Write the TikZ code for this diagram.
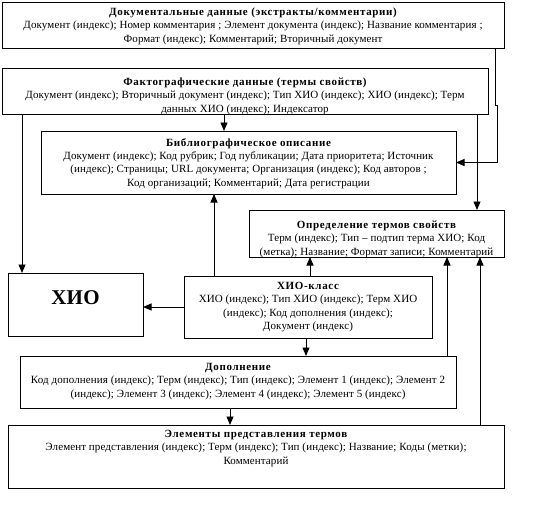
\documentclass[tikz,border=0pt]{standalone}
\usepackage{fontspec}
\setmainfont{Liberation Serif}[LetterSpace=1]
\newfontfamily\ttlfont{Liberation Serif}[LetterSpace=6]
\newcommand\boxtitle[1]{{\ttlfont\bfseries #1}}
\usetikzlibrary{arrows.meta}
\begin{document}
\begin{tikzpicture}[x=1pt,y=-1pt,
  box/.style={draw, line width=1pt, inner sep=0pt, outer sep=0pt},
  txt/.style={align=center, inner sep=0pt, outer sep=0pt, font=\fontsize{11}{13.4}\selectfont},
  big/.style={inner sep=0pt, font=\fontsize{21}{24}\selectfont\bfseries},
  arr/.style={line width=0.9pt, -{Triangle[length=8.5pt,width=7pt]}}]
\useasboundingbox (0,0) rectangle (544,512);

% boxes
\node[box, minimum width=502pt, minimum height=46pt] (b1) at (253,25) {};
\node[box, minimum width=486pt, minimum height=46pt] (b2) at (245,91) {};
\node[box, minimum width=415pt, minimum height=63pt] (b3) at (248.5,162.5) {};
\node[box, minimum width=255pt, minimum height=47pt] (b4) at (376.5,233.5) {};
\node[box, minimum width=135pt, minimum height=63pt] (hio) at (75.5,304.5) {};
\node[box, minimum width=248pt, minimum height=62pt] (cls) at (308,307) {};
\node[box, minimum width=436pt, minimum height=52pt] (dop) at (238,382) {};
\node[box, minimum width=496pt, minimum height=63pt] (el) at (256,456.5) {};

% texts
\node[txt] (t1) at (253,26) {\boxtitle{Документальные данные (экстракты/комментарии)}\\
Документ (индекс); Номер комментария ; Элемент документа (индекс); Название комментария ;\\
Формат (индекс); Комментарий; Вторичный документ};

\begin{scope}
\clip (b2.south west) rectangle (b2.north east);
\node[txt] (t2) at (245,96) {\boxtitle{Фактографические данные (термы свойств)}\\
Документ (индекс); Вторичный документ (индекс); Тип ХИО (индекс); ХИО (индекс); Терм\\
данных ХИО (индекс); Индексатор};
\end{scope}

\node[txt] (t3) at (248.5,163.5) {\boxtitle{Библиографическое описание}\\
Документ (индекс); Код рубрик; Год публикации; Дата приоритета; Источник\\
(индекс); Страницы; URL документа; Организация (индекс); Код авторов ;\\
Код организаций; Комментарий; Дата регистрации};

\begin{scope}
\clip (b4.south west) rectangle (b4.north east);
\node[txt] (t4) at (376.5,239) {\boxtitle{Определение термов свойств}\\
Терм (индекс); Тип – подтип терма ХИО; Код\\
(метка); Название; Формат записи; Комментарий};
\end{scope}

\node[big] (thio) at (75.5,298) {ХИО};

\node[txt] (tcls) at (308,307) {\boxtitle{ХИО-класс}\\
ХИО (индекс); Тип ХИО (индекс); Терм ХИО\\
(индекс); Код дополнения (индекс);\\
Документ (индекс)};

\node[txt] (tdop) at (238,381.5) {\boxtitle{Дополнение}\\
Код дополнения (индекс); Терм (индекс); Тип (индекс); Элемент 1 (индекс); Элемент 2\\
(индекс); Элемент 3 (индекс); Элемент 4 (индекс); Элемент 5 (индекс)};

\node[txt] (tel) at (256,448.5) {\boxtitle{Элементы представления термов}\\
Элемент представления (индекс); Терм (индекс); Тип (индекс); Название; Коды (метки);\\
Комментарий};

% connector x positions
\coordinate (xa) at (22,0);
\coordinate (xb) at (224,0);
\coordinate (xc) at (477,0);
\coordinate (xd) at (214,0);
\coordinate (xe) at (310,0);
\coordinate (xf) at (306,0);
\coordinate (xg) at (447,0);
\coordinate (xh) at (480,0);
\coordinate (xi) at (230,0);
\coordinate (xj) at (495,0);
\coordinate (j1) at (495,105);
\coordinate (j2) at (497,105);

% connectors
\draw[arr] (xj |- b1.south) -- (j1) -- (j2) |- (b3.east);
\draw[arr] (xa |- b2.south) -- (xa |- hio.north);
\draw[arr] (xb |- b2.south) -- (xb |- b3.north);
\draw[arr] (xc |- b2.south) -- (xc |- b4.north);
\draw[arr] (xd |- cls.north) -- (xd |- b3.south);
\draw[arr] (xe |- cls.north) -- (xe |- b4.south);
\draw[arr] (cls.west) -- (hio.east |- cls.west);
\draw[arr] (xf |- cls.south) -- (xf |- dop.north);
\draw[arr] (xg |- dop.north) -- (xg |- b4.south);
\draw[arr] (xh |- el.north) -- (xh |- b4.south);
\draw[arr] (xi |- dop.south) -- (xi |- el.north);
\end{tikzpicture}
\end{document}
